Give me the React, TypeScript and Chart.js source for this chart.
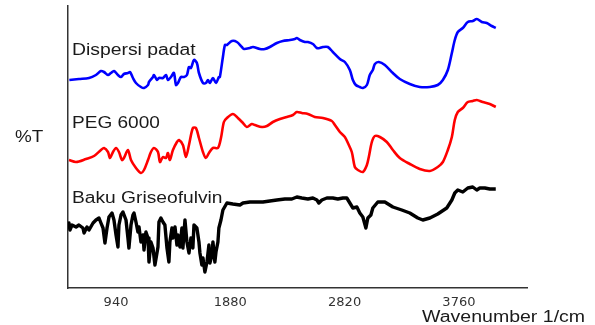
import { useEffect, useRef } from "react";
import { Chart, registerables } from "chart.js";

Chart.register(...registerables);

// ---- data (wavenumber, %T offset units) ----
const xTicks = [940, 1880, 2820, 3760];
const seriesLabels = ["Dispersi padat", "PEG 6000", "Baku Griseofulvin"];
const yAxisLabel = "%T";
const xAxisLabel = "Wavenumber 1/cm";

const blueWn = [556,635,718,775,816,841,874,898,923,956,981,1005,1038,1055,1079,1104,1145,1170,1203,1211,1244,1252,1277,1293,1326,1351,1367,1392,1416,1433,1449,1474,1499,1523,1540,1556,1581,1605,1622,1655,1679,1696,1712,1737,1762,1786,1794,1819,1836,1852,1893,1934,1975,1992,2041,2066,2123,2164,2205,2263,2312,2370,2411,2427,2452,2493,2518,2559,2592,2616,2641,2682,2723,2781,2822,2863,2888,2912,2945,2970,3003,3027,3052,3069,3101,3151,3217,3274,3356,3438,3521,3586,3628,3669,3702,3726,3751,3792,3833,3874,3907,3948,3989,4030,4063];
const blueT = [208,209,210,213,217,216,213,215,217,213,211,214,215,216,210,205,201,200,203,206,211,213,208,210,210,213,208,211,215,203,205,211,211,213,221,220,228,225,215,205,205,208,205,210,205,211,211,231,243,243,247,246,241,239,240,241,239,239,241,245,247,248,249,250,248,246,246,244,240,240,241,241,236,229,226,218,208,203,201,200,203,213,218,224,226,223,215,209,204,201,201,203,208,218,235,248,256,260,266,267,269,266,265,262,260];

const redWn = [553,611,693,759,816,841,874,890,915,940,964,989,1005,1038,1063,1104,1145,1170,1203,1227,1252,1285,1301,1326,1351,1367,1383,1408,1441,1457,1490,1515,1540,1572,1597,1622,1655,1679,1704,1737,1778,1803,1827,1852,1901,1942,1984,2016,2057,2082,2140,2181,2230,2288,2345,2395,2427,2468,2518,2575,2641,2715,2740,2781,2822,2847,2879,2904,2929,2970,3003,3019,3044,3069,3110,3167,3217,3274,3356,3438,3521,3586,3628,3669,3702,3726,3751,3792,3833,3874,3907,3956,4014,4063];
const redT = [128,126,129,132,138,140,136,130,136,140,136,128,130,138,128,120,115,118,128,136,140,136,126,131,130,135,128,138,146,148,143,131,143,160,160,150,136,130,135,140,140,150,166,170,174,170,165,161,164,163,161,162,166,169,171,173,176,175,174,171,170,167,163,156,151,145,136,121,118,116,123,131,146,152,151,146,138,130,124,119,117,121,126,138,151,168,176,180,186,187,188,186,184,181];

const blackWn = [545,553,561,578,611,635,668,677,701,718,751,775,800,816,833,849,866,882,907,923,940,956,964,981,997,1022,1038,1046,1063,1079,1088,1104,1120,1129,1145,1162,1170,1186,1203,1211,1227,1244,1260,1285,1293,1309,1326,1342,1359,1375,1383,1400,1408,1425,1441,1449,1466,1482,1490,1507,1523,1540,1556,1572,1581,1605,1622,1630,1646,1655,1671,1688,1704,1712,1729,1737,1753,1762,1778,1786,1803,1819,1852,1901,1959,1984,2041,2099,2148,2205,2263,2329,2386,2427,2468,2518,2559,2592,2608,2633,2674,2723,2764,2806,2838,2863,2888,2921,2945,2970,2995,3011,3036,3052,3093,3151,3217,3290,3356,3422,3463,3521,3586,3660,3702,3726,3751,3792,3833,3874,3907,3932,3973,4014,4063];
const blackT = [62,65,58,63,61,63,60,55,61,58,65,68,70,65,60,45,60,71,75,68,53,41,63,73,76,68,50,40,63,73,75,66,56,61,46,53,38,56,50,26,46,40,23,41,66,70,66,63,40,26,46,60,50,61,43,53,41,60,40,68,46,35,50,40,63,60,46,35,23,30,16,26,43,25,33,46,26,36,46,60,68,78,85,84,83,85,86,86,86,87,88,89,89,91,90,89,90,88,85,88,90,90,89,90,90,85,80,81,75,71,60,70,73,80,86,86,81,78,75,70,68,70,74,80,88,95,98,96,100,101,98,100,100,99,99];

const toPoints = (xs: number[], ys: number[]) => xs.map((x, i) => ({ x, y: ys[i] }));

function drawStretched(ctx: CanvasRenderingContext2D, text: string, x: number, y: number, size: number, sx: number) {
  ctx.save();
  ctx.translate(x, y);
  ctx.scale(sx, 1);
  ctx.font = `${size}px "Liberation Sans", Arial, sans-serif`;
  ctx.textBaseline = "alphabetic";
  ctx.textAlign = "left";
  ctx.fillText(text, 0, 0);
  ctx.restore();
}

const textPlugin = {
  id: "ftirTexts",
  afterDraw(chart: any) {
    const { ctx, chartArea } = chart;
    ctx.save();
    ctx.fillStyle = "#1a1a1a";
    drawStretched(ctx, seriesLabels[0], chartArea.left + 4, 55, 16, 1.21);
    drawStretched(ctx, seriesLabels[1], chartArea.left + 4, 128, 16, 1.19);
    drawStretched(ctx, seriesLabels[2], chartArea.left + 4, 203, 16, 1.2);
    drawStretched(ctx, yAxisLabel, 15, 142, 16, 1.18);
    drawStretched(ctx, xAxisLabel, 422, 322, 16, 1.22);
    ctx.restore();
  },
};

export default function App() {
  const ref = useRef<HTMLCanvasElement | null>(null);

  useEffect(() => {
    if (!ref.current) return;
    const chart = new Chart(ref.current, {
      type: "line",
      data: {
        datasets: [
          {
            label: seriesLabels[0],
            data: toPoints(blueWn, blueT),
            borderColor: "#0000ff",
            borderWidth: 2.6,
            pointRadius: 0,
            tension: 0.3,
            fill: false,
          },
          {
            label: seriesLabels[1],
            data: toPoints(redWn, redT),
            borderColor: "#ff0000",
            borderWidth: 2.6,
            pointRadius: 0,
            tension: 0.3,
            fill: false,
          },
          {
            label: seriesLabels[2],
            data: toPoints(blackWn, blackT),
            borderColor: "#000000",
            borderWidth: 3.4,
            pointRadius: 0,
            tension: 0,
            borderJoinStyle: "round",
            fill: false,
          },
        ],
      },
      options: {
        animation: false,
        responsive: false,
        devicePixelRatio: 1,
        layout: { padding: { left: 68, right: 68, top: 6, bottom: 0 } },
        plugins: { legend: { display: false }, tooltip: { enabled: false } },
        scales: {
          x: {
            type: "linear",
            min: 545,
            max: 4320,
            grid: { display: false, drawTicks: false },
            border: { display: true, color: "#333333", width: 1.5 },
            afterBuildTicks: (scale: any) => {
              scale.ticks = xTicks.map((v) => ({ value: v }));
            },
            afterFit: (scale: any) => {
              scale.height = 37;
            },
            ticks: {
              padding: 7,
              color: "#333333",
              font: { family: "'DejaVu Sans', sans-serif", size: 13 },
              maxRotation: 0,
              autoSkip: false,
              callback: (v: any) => String(v),
            },
          },
          y: {
            type: "linear",
            min: 0,
            max: 282,
            grid: { display: false, drawTicks: false },
            border: { display: true, color: "#333333", width: 1.5 },
            ticks: { display: false },
            afterFit: (scale: any) => {
              scale.width = 0;
            },
          },
        },
      },
      plugins: [textPlugin],
    });
    return () => chart.destroy();
  }, []);

  return (
    <div style={{ position: "fixed", left: 0, top: 0, width: 595, height: 325, background: "#fff" }}>
      <canvas ref={ref} width={595} height={325} />
    </div>
  );
}
